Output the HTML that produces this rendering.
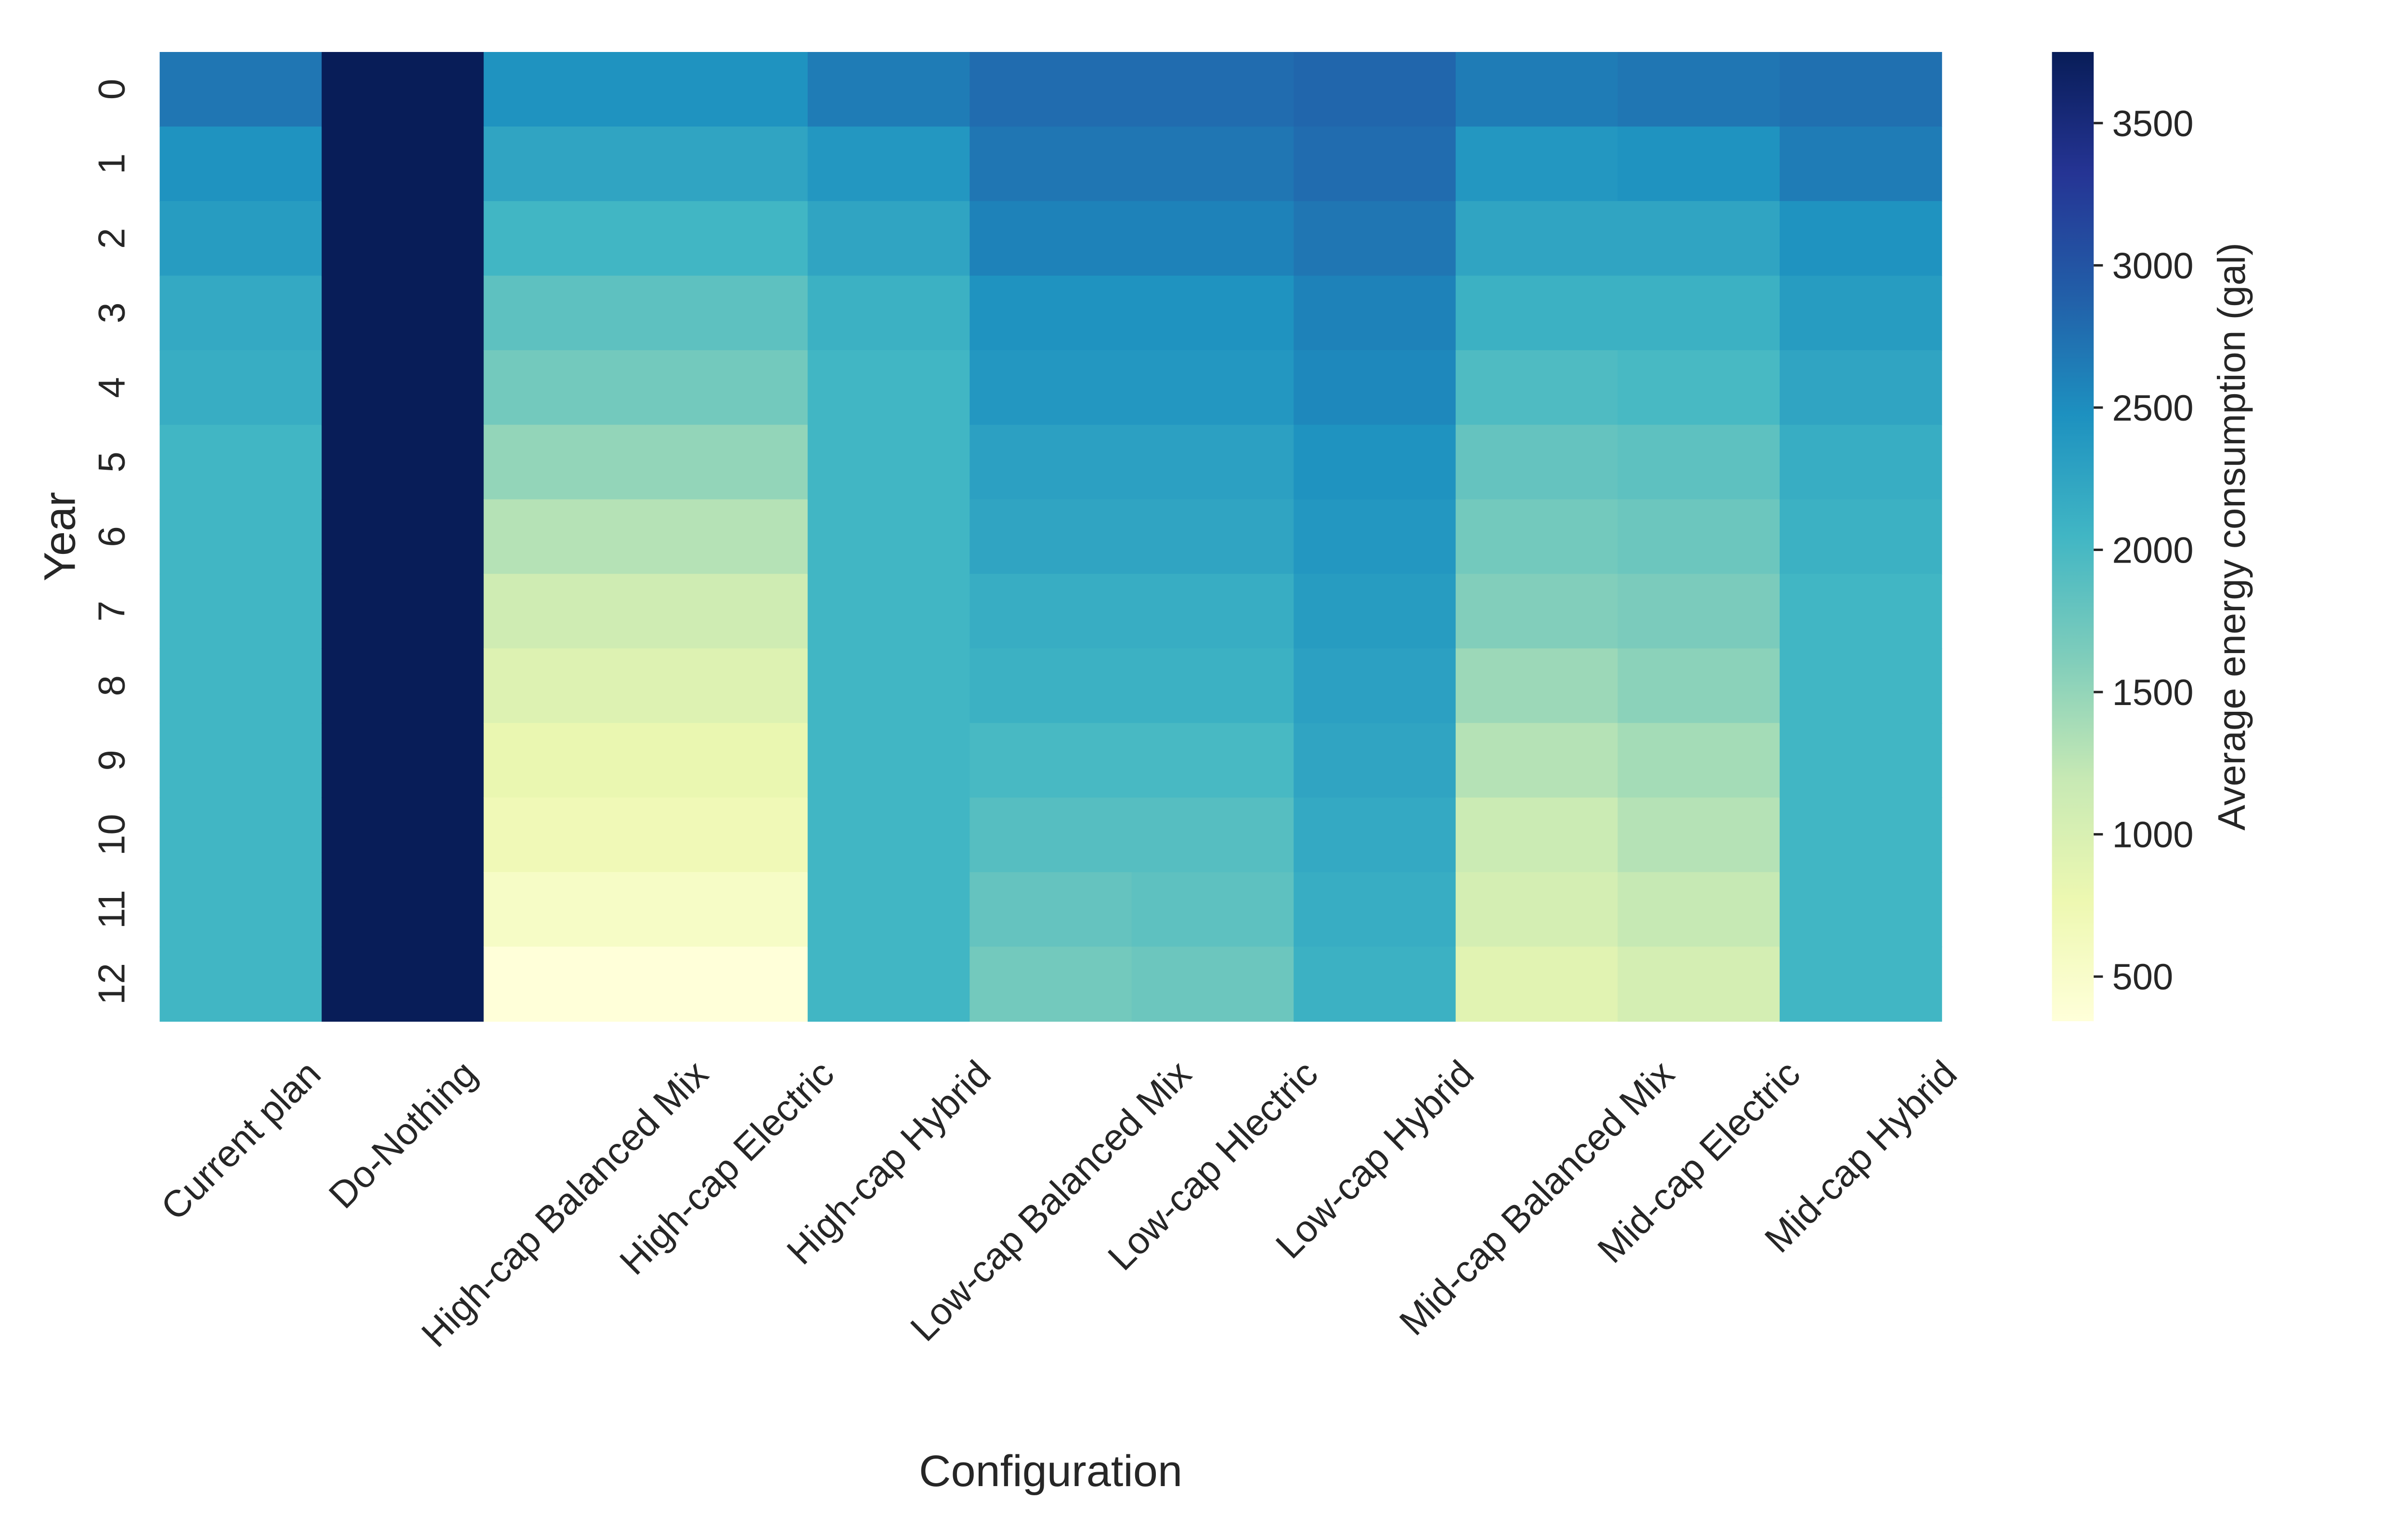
<!DOCTYPE html>
<html><head><meta charset="utf-8"><style>
html,body{margin:0;padding:0;background:#fff;overflow:hidden;width:100%;height:100%;}
svg{display:block;width:100vw;height:100vh;font-family:"Liberation Sans","DejaVu Sans",sans-serif;}
</style></head><body>
<svg id="chart" viewBox="0 0 6000 3200" preserveAspectRatio="none" xmlns="http://www.w3.org/2000/svg">
<rect width="6000" height="3200" fill="#fff"/>
<g id="cells"></g>
<g id="xlabels"></g>
<g id="ylabels"></g>
<text class="mid" x="2619" y="3088" font-size="92" text-anchor="middle" fill="#262626">Configuration</text>
<text class="mid" transform="translate(180,1115) rotate(-90)" font-size="92" text-anchor="middle" fill="#262626">Year</text>
<defs><linearGradient id="cbgrad" x1="0" y1="1" x2="0" y2="0"></linearGradient></defs>
<rect x="5115" y="108" width="104" height="2014" fill="url(#cbgrad)"/>
<g id="cbticks"></g>
<text class="mid" transform="translate(5590,1115) rotate(-90)" font-size="80" text-anchor="middle" fill="#262626">Average energy consumption (gal)</text>
</svg>
<script>
const categories = ["Current plan","Do-Nothing","High-cap Balanced Mix","High-cap Electric","High-cap Hybrid","Low-cap Balanced Mix","Low-cap Hlectric","Low-cap Hybrid","Mid-cap Balanced Mix","Mid-cap Electric","Mid-cap Hybrid"];
const years = [0,1,2,3,4,5,6,7,8,9,10,11,12];
const currentPlan = [2700,2450,2350,2200,2150,2050,2050,2050,2050,2050,2050,2050,2050];
const doNothing = [3750,3750,3750,3750,3750,3750,3750,3750,3750,3750,3750,3750,3750];
const highBalanced = [2450,2250,2050,1850,1700,1500,1300,1100,950,800,700,550,343];
const highElectric = [2450,2250,2050,1850,1700,1500,1300,1100,950,800,700,550,343];
const highHybrid = [2650,2400,2250,2100,2050,2050,2050,2050,2050,2050,2050,2050,2050];
const lowBalanced = [2780,2700,2600,2450,2400,2300,2250,2150,2100,2000,1900,1800,1700];
const lowElectric = [2780,2700,2600,2450,2400,2300,2250,2150,2100,2000,1900,1850,1750];
const lowHybrid = [2830,2780,2700,2600,2550,2450,2400,2350,2300,2250,2200,2150,2100];
const midBalanced = [2650,2400,2250,2100,1950,1800,1700,1600,1450,1300,1150,1050,900];
const midElectric = [2700,2450,2250,2100,2000,1850,1750,1650,1550,1400,1300,1200,1050];
const midHybrid = [2750,2650,2450,2350,2250,2150,2100,2050,2050,2050,2050,2050,2050];
const series = [currentPlan,doNothing,highBalanced,highElectric,highHybrid,lowBalanced,lowElectric,lowHybrid,midBalanced,midElectric,midHybrid];
const cbTicks = [500,1000,1500,2000,2500,3000,3500];
const vmin = 343, vmax = 3750;

const NS = "http://www.w3.org/2000/svg";
const L = 398, R = 4840, T = 108, B = 2122;
const rowH = (B - T) / years.length;
const colWidth = (R - L) / series.length;
function yPos(j){ return T + j * rowH; }
const stops = ["#ffffd9","#edf8b1","#c7e9b4","#7fcdbb","#41b6c4","#1d91c0","#225ea8","#253494","#081d58"];
function hex(c){return [1,3,5].map(k=>parseInt(c.substr(k,2),16));}
function color(v){
  let t = Math.max(0, Math.min(1, (v - vmin) / (vmax - vmin))) * (stops.length - 1);
  let i = Math.min(stops.length - 2, Math.floor(t)), f = t - i;
  const a = hex(stops[i]), b = hex(stops[i+1]);
  return "rgb(" + a.map((x,k)=>Math.round(x + (b[k]-x)*f)).join(",") + ")";
}
const cells = document.getElementById("cells");
series.forEach((vals, i) => {
  vals.forEach((v, j) => {
    const r = document.createElementNS(NS, "rect");
    
    
    r.setAttribute("x", L + i * colWidth);
    r.setAttribute("y", yPos(j));
    r.setAttribute("width", colWidth + 1);
    r.setAttribute("height", rowH + 1);
    r.setAttribute("fill", color(v));
    cells.appendChild(r);
  });
});
const xl = document.getElementById("xlabels");
categories.forEach((c, i) => {
  const cx = L + (i + 0.5) * colWidth;
  const t = document.createElementNS(NS, "text");
  
  
  t.setAttribute("class", "mid");
  t.setAttribute("font-size", "78");
  t.setAttribute("fill", "#262626");
  t.setAttribute("text-anchor", "middle");
  t.setAttribute("dominant-baseline", "central");
  t.textContent = c;
  xl.appendChild(t);
  const len = t.getComputedTextLength();
  const h = (len + 78) * 0.7071;
  const cy = 2190 + h / 2;
  t.setAttribute("x", cx); t.setAttribute("y", cy);
  t.setAttribute("transform", "rotate(-45 " + cx + " " + cy + ")");
});
const yl = document.getElementById("ylabels");
years.forEach((y, j) => {
  const cy = yPos(j) + rowH / 2;
  const t = document.createElementNS(NS, "text");
  
  
  t.setAttribute("class", "mid");
  t.setAttribute("font-size", "78");
  t.setAttribute("fill", "#262626");
  t.setAttribute("text-anchor", "middle");
  t.setAttribute("transform", "translate(305," + cy + ") rotate(-90)");
  t.textContent = y;
  yl.appendChild(t);
});
const g = document.getElementById("cbgrad");
stops.forEach((s, k) => {
  const st = document.createElementNS(NS, "stop");
  st.setAttribute("offset", k / (stops.length - 1));
  st.setAttribute("stop-color", s);
  g.appendChild(st);
});
const cbt = document.getElementById("cbticks");
cbTicks.forEach(v => {
  const y = B - (v - vmin) / (vmax - vmin) * (B - T);
  const ln = document.createElementNS(NS, "line");
  
  
  ln.setAttribute("x1", 5219); ln.setAttribute("x2", 5242);
  ln.setAttribute("y1", y); ln.setAttribute("y2", y);
  ln.setAttribute("stroke", "#262626"); ln.setAttribute("stroke-width", "5");
  cbt.appendChild(ln);
  const t = document.createElementNS(NS, "text");
  
  
  t.setAttribute("class", "left");
  t.setAttribute("x", 5265); t.setAttribute("y", y + 27);
  t.setAttribute("font-size", "76");
  t.setAttribute("fill", "#262626");
  t.textContent = v;
  cbt.appendChild(t);
});
// compensate non-uniform viewport scaling so glyphs keep their proportions
(function(){
  const svg = document.getElementById("chart");
  const sx = window.innerWidth / 6000, sy = window.innerHeight / 3200;
  if (!sx || !sy) return;
  const k = sy / sx;
  if (Math.abs(k - 1) < 0.01) return;
  document.querySelectorAll("#chart text").forEach(t => {
    const r = t.getBoundingClientRect();
    const ux = t.classList.contains("left") ? r.left / sx : (r.left + r.width / 2) / sx;
    const w = document.createElementNS(NS, "g");
    w.setAttribute("transform", "translate(" + ux + ",0) scale(" + k + ",1) translate(" + (-ux) + ",0)");
    t.parentNode.insertBefore(w, t);
    w.appendChild(t);
  });
})();
</script>
</body></html>
